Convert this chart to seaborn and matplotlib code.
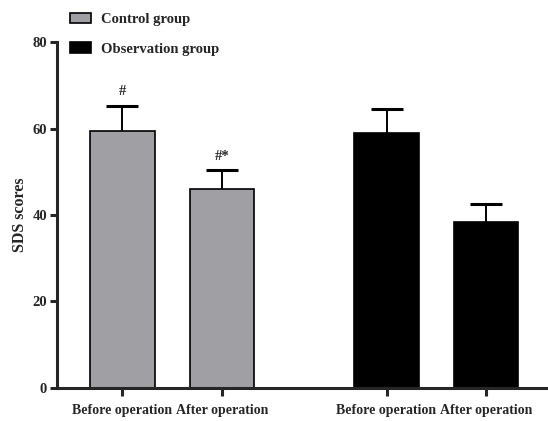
import numpy as np
import pandas as pd
import matplotlib
matplotlib.use("Agg")
import matplotlib.pyplot as plt
from matplotlib.patches import Patch
import seaborn as sns

groups = ["Control group", "Control group", "Observation group", "Observation group"]
phases = ["Before operation", "After operation", "Before operation", "After operation"]
positions = [0.0, 1.0, 2.656, 3.656]
means = [59.5, 46.0, 59.1, 38.4]
sds = [5.8, 4.4, 5.4, 4.1]
marks = ["#", "#*", "", ""]
palette = {"Control group": "#a0a0a4", "Observation group": "#000000"}

sns.set_style("ticks")
plt.rcParams["font.family"] = ["Liberation Serif", "DejaVu Serif"]
plt.rcParams["font.weight"] = "bold"

df = pd.DataFrame({"group": groups, "phase": phases, "pos": positions,
                   "mean": means, "sd": sds})

fig = plt.figure(figsize=(5.48, 4.21), dpi=100)
ax = fig.add_axes([0.1035, 0.079, 0.8965, 0.8205])

sns.barplot(data=df, x="pos", y="mean", hue="group", palette=palette,
            native_scale=True, dodge=False, width=0.65, edgecolor="black",
            linewidth=1.2, errorbar=None, legend=False, ax=ax)

# only the upper half of the error bar, as in the original figure
_, caps, _ = ax.errorbar(df["pos"], df["mean"], yerr=[np.zeros(len(df)), df["sd"]],
                         fmt="none", ecolor="black", elinewidth=1.4, capsize=11.8,
                         capthick=2.2, zorder=3)
caps[0].set_visible(False)

for x, m, s, t in zip(positions, means, sds, marks):
    if t:
        ax.text(x, m + s + 3.2, t, ha="center", va="center",
                fontsize=10.5, fontweight="bold")

ax.set_xlim(-0.661, 4.28)
ax.set_ylim(0, 80)
ax.set_yticks([0, 20, 40, 60, 80])
ax.set_xticks(positions)
ax.set_xticklabels(phases, fontsize=10, fontweight="bold")
ax.tick_params(axis="y", labelsize=10.5, length=5, width=2.2, pad=2)
ax.tick_params(axis="x", length=6, width=2.2, pad=6)
for lab in ax.get_yticklabels():
    lab.set_fontweight("bold")
ax.set_xlabel("")
ax.set_ylabel("SDS scores", fontsize=11.5, fontweight="bold", labelpad=3)
sns.despine(ax=ax, top=True, right=True)
ax.spines["left"].set_linewidth(2.2)
ax.spines["bottom"].set_linewidth(2.2)
ax.spines["bottom"].set_clip_on(False)

handles = [Patch(facecolor=palette[g], edgecolor="black", linewidth=1.2, label=g)
           for g in ["Control group", "Observation group"]]
fig.legend(handles=handles, loc="upper left", bbox_to_anchor=(0.104, 1.0),
           frameon=False, prop={"size": 10.5, "weight": "bold"},
           handlelength=1.4, handleheight=0.7, handletextpad=0.7,
           labelspacing=1.1)

fig.savefig("out.png", dpi=100)
